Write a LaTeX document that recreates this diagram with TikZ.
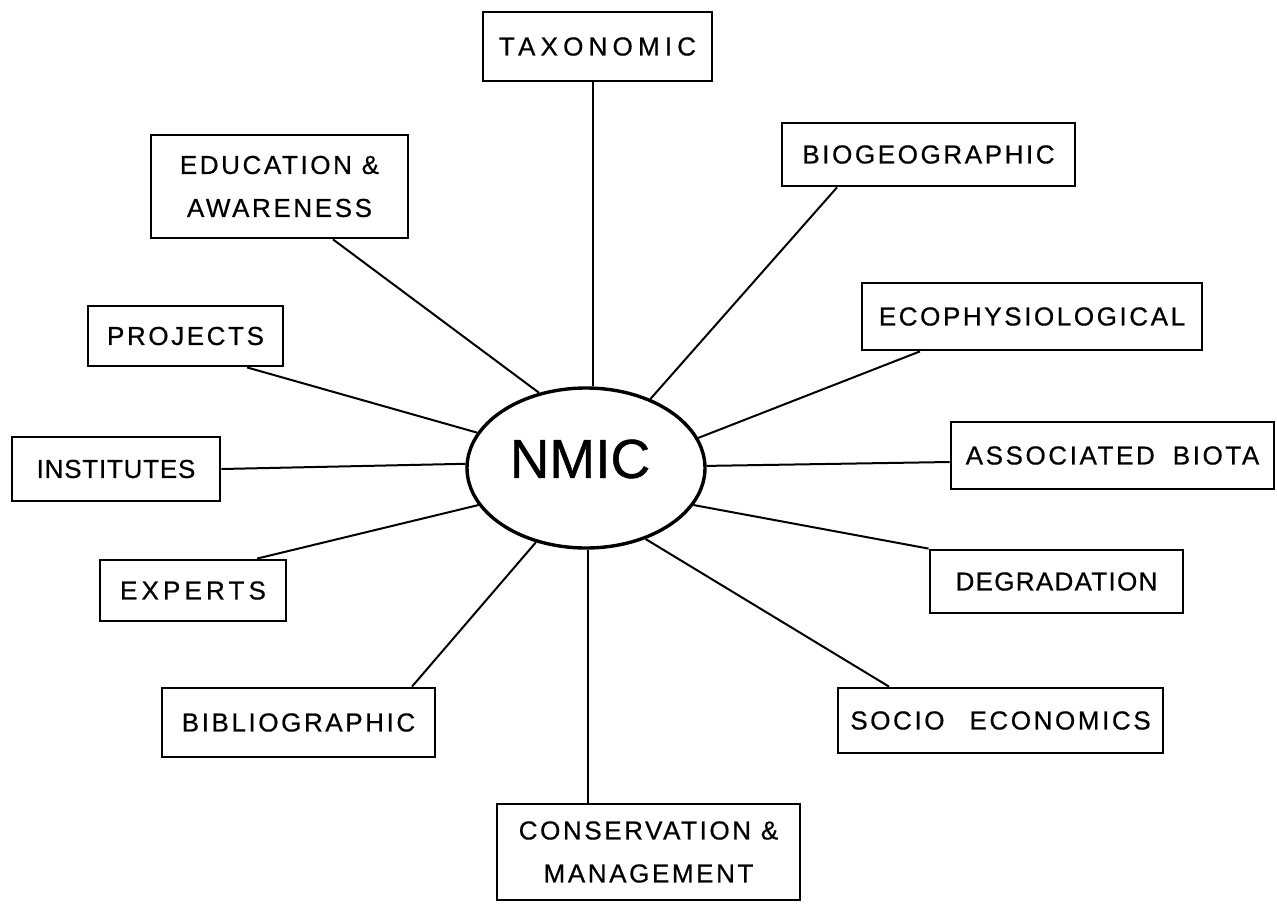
\documentclass[tikz,border=0pt]{standalone}
\usepackage{fontspec}
\setmainfont{Liberation Sans}
\newfontfamily\boxfont[LetterSpace=10,FakeBold=0.6]{Liberation Sans}
\newfontfamily\centrefont[FakeBold=0.8]{Liberation Sans}
\usetikzlibrary{shapes.geometric}
\begin{document}
\begin{tikzpicture}[x=1pt,y=-1pt,
  box/.style={draw, line width=2.8pt, inner sep=0pt, align=center,
    font=\boxfont\fontsize{26}{43}\selectfont},
  conn/.style={line width=2pt}]
\useasboundingbox (0,0) rectangle (1277,906);
% centre
\node[draw, ellipse, line width=3.4pt, minimum width=238, minimum height=160, inner sep=0pt] (nmic) at (586,468) {};
\node[font=\centrefont\fontsize{55}{60}\selectfont] (nmiclabel) at (580,459) {NMIC};
% boxes
\node[box, minimum width=229, minimum height=69] (tax) at (597.5,46.5) {\addfontfeature{LetterSpace=20}TAXONOMIC};
\node[box, minimum width=293, minimum height=63] (bio) at (928.5,154.5) {BIOGEOGRAPHIC};
\node[box, minimum width=257, minimum height=103] (edu) at (279.5,186.5) {EDUCATION \&\\AWARENESS};
\node[box, minimum width=340, minimum height=67] (eco) at (1032,316.5) {ECOPHYSIOLOGICAL};
\node[box, minimum width=195, minimum height=60] (proj) at (185.5,336) {PROJECTS};
\node[box, minimum width=323, minimum height=67] (assoc) at (1112.5,455.5) {ASSOCIATED\hspace{18pt}BIOTA};
\node[box, minimum width=208, minimum height=64] (inst) at (116,469) {\addfontfeature{LetterSpace=3}INSTITUTES};
\node[box, minimum width=186, minimum height=61] (exp) at (193,590.5) {\addfontfeature{LetterSpace=16}EXPERTS};
\node[box, minimum width=253, minimum height=63] (deg) at (1056.5,581.5) {\addfontfeature{LetterSpace=5}DEGRADATION};
\node[box, minimum width=273, minimum height=69] (bib) at (298.5,722.5) {BIBLIOGRAPHIC};
\node[box, minimum width=325, minimum height=65] (socio) at (1000.5,720.5) {SOCIO\hspace{25pt}ECONOMICS};
\node[box, minimum width=303, minimum height=96] (cons) at (648.5,852) {CONSERVATION \&\\MANAGEMENT};
% connectors
\coordinate (t1) at ([xshift=-4.5pt]tax.south);
\draw[conn] (t1) -- (t1 |- nmic.north);
\draw[conn] ([xshift=-91.5pt]bio.south) -- (nmic.47);
\draw[conn] ([xshift=53.5pt]edu.south) -- (nmic.122);
\draw[conn] ([xshift=-112pt]eco.south) -- (nmic.15);
\draw[conn] ([xshift=61.5pt]proj.south) -- (nmic.162);
\draw[conn] (inst.east) -- (nmic.178);
\draw[conn] ([xshift=64pt]exp.north) -- (nmic.199);
\draw[conn] ([yshift=-6.5pt]assoc.west) -- (nmic.1);
\draw[conn] (deg.north west) -- (nmic.-19);
\draw[conn] ([xshift=113.5pt]bib.north) -- (nmic.236);
\draw[conn] ([xshift=-111.5pt]socio.north) -- (nmic.-50);
\coordinate (c1) at ([xshift=-60.5pt]cons.north);
\draw[conn] (c1) -- (c1 |- nmic.south);
\end{tikzpicture}
\end{document}
